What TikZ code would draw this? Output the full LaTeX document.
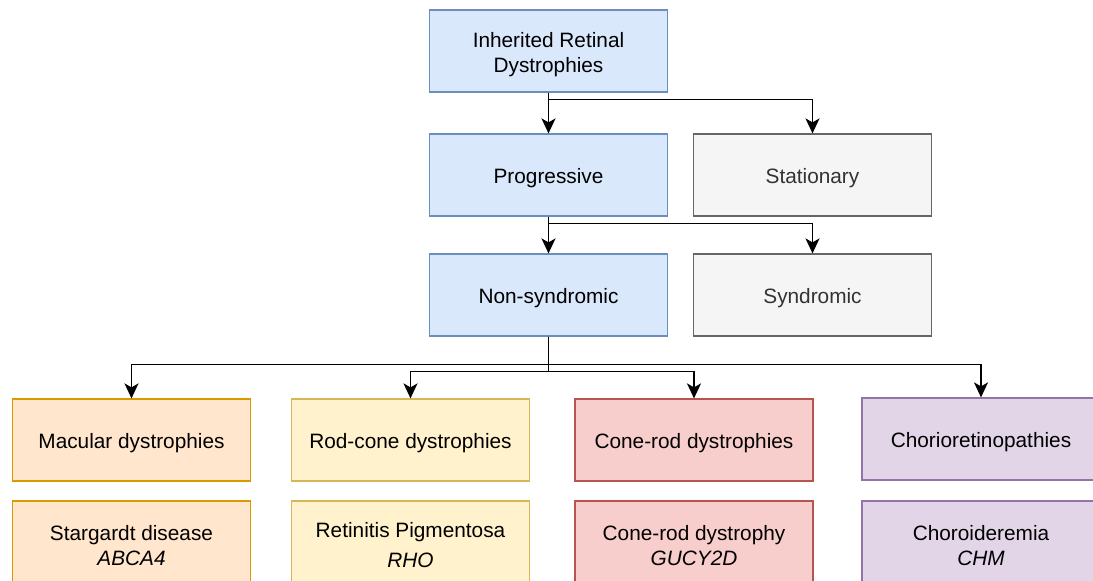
\documentclass[tikz,border=0pt]{standalone}
\usepackage{fontspec}
\setmainfont{Liberation Sans}
\usetikzlibrary{arrows.meta}
\definecolor{bluefill}{HTML}{DAE8FC}\definecolor{bluedraw}{HTML}{6C8EBF}
\definecolor{grayfill}{HTML}{F5F5F5}\definecolor{graydraw}{HTML}{666666}\definecolor{graytext}{HTML}{333333}
\definecolor{orfill}{HTML}{FFE6CC}\definecolor{ordraw}{HTML}{D79B00}
\definecolor{yefill}{HTML}{FFF2CC}\definecolor{yedraw}{HTML}{D6B656}
\definecolor{refill}{HTML}{F8CECC}\definecolor{redraw}{HTML}{B85450}
\definecolor{pufill}{HTML}{E1D5E7}\definecolor{pudraw}{HTML}{9673A6}
\newcommand{\upst}{\rule{0pt}{21.5pt}}
\tikzset{
  box/.style={draw, line width=1.2pt, minimum width=238pt, minimum height=82pt, align=center,
    inner sep=0pt, font=\fontsize{20.8}{25}\selectfont},
  bluebox/.style={box, fill=bluefill, draw=bluedraw},
  graybox/.style={box, fill=grayfill, draw=graydraw, text=graytext},
  orbox/.style={box, fill=orfill, draw=ordraw},
  yebox/.style={box, fill=yefill, draw=yedraw},
  rebox/.style={box, fill=refill, draw=redraw},
  pubox/.style={box, fill=pufill, draw=pudraw},
  arr/.style={line width=1.7pt, -{Stealth[length=15pt, width=14pt, inset=4pt]}},
}
\begin{document}
\begin{tikzpicture}[x=1pt, y=-1pt]
\useasboundingbox (0,0) rectangle (1093,581);
\node[bluebox] (top) at (548.5,51) {\upst Inherited Retinal\\Dystrophies};
\node[bluebox] (prog) at (548.5,175) {\upst Progressive};
\node[graybox] (stat) at (812.5,175) {\upst Stationary};
\node[bluebox] (ns) at (548.5,295) {\upst Non-syndromic};
\node[graybox] (syn) at (812.5,295) {\upst Syndromic};
\node[orbox] (mac) at (131.5,440) {\upst Macular dystrophies};
\node[yebox] (rod) at (410.5,440) {\upst Rod-cone dystrophies};
\node[rebox] (cone) at (694,440) {\upst Cone-rod dystrophies};
\node[pubox] (cho) at (981,439) {\upst Chorioretinopathies};
\node[orbox] (stg) at (131.5,542) {\upst Stargardt disease\\\textit{ABCA4}};
\node[yebox] (rp) at (410.5,542) {\upst Retinitis Pigmentosa\\[5pt]\textit{RHO}};
\node[rebox] (crd) at (694,542) {\upst Cone-rod dystrophy\\\textit{GUCY2D}};
\node[pubox] (chm) at (981,542) {\upst Choroideremia\\\textit{CHM}};
\draw[arr] (top.south) -- (prog.north);
\draw[arr] (top.south) -- ++(0,7) -| (stat.north);
\draw[arr] (prog.south) -- (ns.north);
\draw[arr] (prog.south) -- ++(0,7) -| (syn.north);
\draw[arr] (ns.south) -- ++(0,28) -| (mac.north);
\draw[arr] (ns.south) -- ++(0,28) -| (cho.north);
\draw[arr] (ns.south) -- ++(0,35) -| (rod.north);
\draw[arr] (ns.south) -- ++(0,35) -| (cone.north);
\end{tikzpicture}
\end{document}
